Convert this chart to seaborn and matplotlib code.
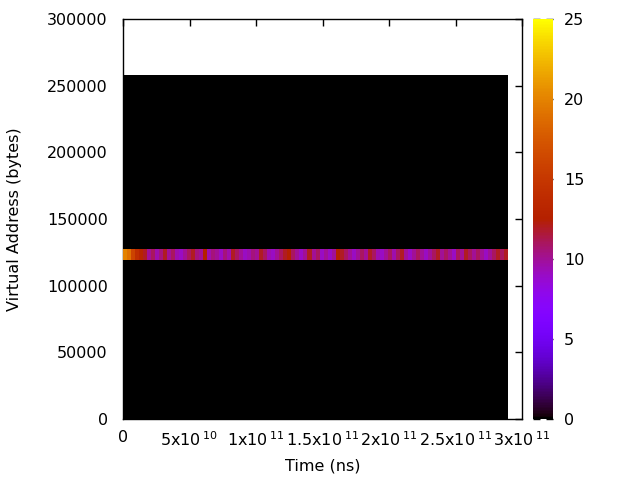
import numpy as np
import matplotlib
matplotlib.use("Agg")
import matplotlib.pyplot as plt
import seaborn as sns

# ---------------------------------------------------------
# data: memory access heat map (address band x time bins)
# ---------------------------------------------------------
T_END = 2.895e11                      # last time edge (ns)
ADDR_EDGES = [0, 119250, 127500, 258000]   # address bin edges (bytes)
BAND_ROW = 1                          # the hot address bin

# access count per time bin in the hot band
band_counts = [20, 19, 16, 14, 13, 12, 10, 11, 9.5, 10.5, 12, 10, 11, 9.5, 9, 10,
               11, 12, 10.5, 10, 12.5, 9.5, 10.5, 10, 9, 10.5, 9.5, 12, 11, 10, 9, 9.5,
               10.5, 10, 12, 11, 9.5, 9, 10, 11, 12, 12.5, 11, 10, 9, 10, 12, 10,
               11, 9, 10, 9, 10, 12.5, 12, 11, 10, 9, 10, 11, 10, 12, 11, 9.5,
               9, 10, 11, 9.5, 11, 12, 10, 9, 10, 11, 10, 9, 10, 11, 12, 10,
               11, 10, 9, 11, 10, 12, 11, 10, 11, 10, 9, 10, 11, 12, 11, 12]

x_ticks = [0, 5e10, 1e11, 1.5e11, 2e11, 2.5e11, 3e11]
x_ticklabels = ["0", r"5x10$\,^{10}$", r"1x10$\,^{11}$", r"1.5x10$\,^{11}$",
                r"2x10$\,^{11}$", r"2.5x10$\,^{11}$", r"3x10$\,^{11}$"]
y_ticks = [0, 50000, 100000, 150000, 200000, 250000, 300000]
cb_ticks = [0, 5, 10, 15, 20, 25]

# ---------------------------------------------------------
sns.set_style("white")
plt.rcParams['font.family'] = ['DejaVu Sans']
plt.rcParams['font.size'] = 11.5
plt.rcParams['text.color'] = 'black'
plt.rcParams['axes.labelcolor'] = 'black'
plt.rcParams['xtick.color'] = 'black'
plt.rcParams['ytick.color'] = 'black'

cmap = sns.color_palette("gnuplot", as_cmap=True)

n_t = len(band_counts)
t_edges = np.linspace(0, T_END, n_t + 1)
grid = np.zeros((len(ADDR_EDGES) - 1, n_t))
grid[BAND_ROW, :] = band_counts

fig = plt.figure(figsize=(6.4, 4.8), dpi=100)
ax = fig.add_axes([123 / 640, 61 / 480, 399 / 640, 400 / 480])
cax = fig.add_axes([533 / 640, 61 / 480, 20 / 640, 400 / 480])

mesh = ax.pcolormesh(t_edges, ADDR_EDGES, grid, cmap=cmap, vmin=0, vmax=25,
                     shading="flat", zorder=1)

ax.set_xlim(0, 3e11)
ax.set_ylim(0, 300000)
ax.set_xticks(x_ticks)
ax.set_xticklabels(x_ticklabels)
ax.set_yticks(y_ticks)
ax.set_yticklabels([str(v) for v in y_ticks])
ax.tick_params(direction="in", length=5, width=1, top=True, right=True,
               labelsize=11.5, color="black", labelcolor="black")
ax.tick_params(axis="y", pad=11)
ax.tick_params(axis="x", pad=8)
for s in ax.spines.values():
    s.set_color("black")
    s.set_linewidth(1)
    s.set_zorder(0)

ax.set_xlabel("Time (ns)", fontsize=11.5, labelpad=7)
ax.set_ylabel("Virtual Address (bytes)", fontsize=11.5, labelpad=18)

cb = fig.colorbar(mesh, cax=cax, ticks=cb_ticks)
cb.outline.set_visible(False)
cax.tick_params(direction="in", length=5, width=1, left=True, right=True,
                labelsize=11.5, pad=8, color="black", labelcolor="black")

fig.savefig("out.png", dpi=100)
